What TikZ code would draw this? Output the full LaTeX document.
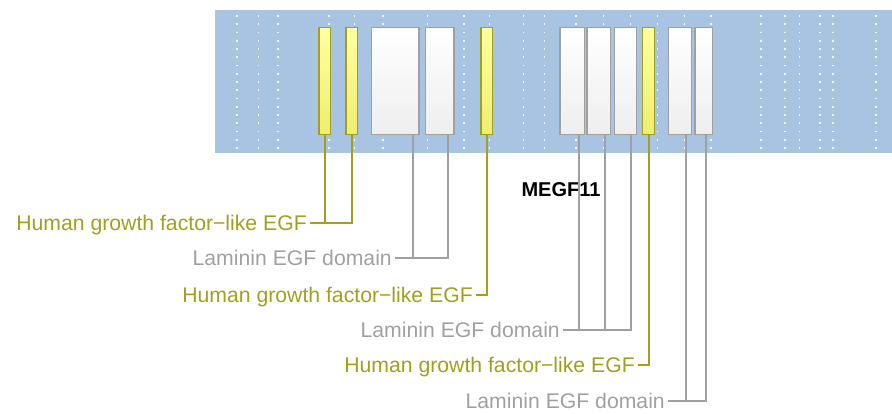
\documentclass[tikz,border=0pt]{standalone}
\usepackage{fontspec}
\setmainfont{Liberation Sans}
\usepackage{tikz}
\usetikzlibrary{positioning}
\definecolor{bandblue}{RGB}{168,196,226}
\definecolor{hgfolive}{RGB}{160,160,30}
\definecolor{hgftop}{RGB}{255,255,160}
\definecolor{hgfbottom}{RGB}{238,238,112}
\definecolor{lamgray}{RGB}{160,160,160}
\definecolor{lambottom}{RGB}{238,238,238}
\tikzset{
  hgfbox/.style={draw=hgfolive,line width=1.5pt,top color=hgftop,middle color=hgftop,
    bottom color=hgfbottom,minimum height=107pt,inner sep=0pt},
  lambox/.style={draw=lamgray,line width=1.5pt,top color=white,middle color=white,
    bottom color=lambottom,minimum height=107pt,inner sep=0pt},
  hgflabel/.style={anchor=east,text=hgfolive,font=\fontsize{21.2}{25}\selectfont,
    inner xsep=3pt,inner ysep=0pt,text height=15pt,text depth=0pt},
  lamlabel/.style={anchor=east,text=lamgray,font=\fontsize{21.2}{25}\selectfont,
    inner xsep=3pt,inner ysep=0pt,text height=15pt,text depth=0pt},
  hgfstem/.style={draw=hgfolive,line width=2pt},
  lamstem/.style={draw=lamgray,line width=2pt}
}

\begin{document}
\begin{tikzpicture}[x=1pt,y=-1pt]
  \useasboundingbox (0,0) rectangle (892,413);
  % band with dotted guides
  \fill[bandblue] (215,10) rectangle (892,153);
  \draw[red!35,line width=0.8pt] (215,10) -- (215,153);
  \foreach \gx in {236.7,258.3,277.7,329,354.3,382.7,427.3,464,489.3,523.3,544.5,575.7,
      603.3,630.5,657.3,684.3,711,760.7,785,799.3,820,832.7,875.7}
    \foreach \k in {0,...,16}
      \fill[white!92!bandblue] (\gx-0.8,16+8.25*\k-0.8) rectangle ++(1.6,1.6);
  % domains
  \node[hgfbox,minimum width=11.5pt] (hgf1) at (324.8,81) {};
  \node[hgfbox,minimum width=11.5pt] (hgf2) at (351.5,81) {};
  \node[lambox,minimum width=47.8pt] (lam1) at (395.3,81) {};
  \node[lambox,minimum width=28.8pt] (lam2) at (439.8,81) {};
  \node[hgfbox,minimum width=11.5pt] (hgf3) at (486.8,81) {};
  \node[lambox,minimum width=24.2pt] (lam3) at (572.2,81) {};
  \node[lambox,minimum width=23.2pt] (lam4) at (598.7,81) {};
  \node[lambox,minimum width=22.1pt] (lam5) at (625.5,81) {};
  \node[hgfbox,minimum width=12.1pt] (hgf4) at (648.5,81) {};
  \node[lambox,minimum width=23.1pt] (lam6) at (680,81) {};
  \node[lambox,minimum width=17.5pt] (lam7) at (703.5,81) {};
  % protein name
  \node[font=\bfseries\fontsize{20}{24}\selectfont,inner sep=0pt] (megf) at (561,190) {MEGF11};
  % labels
  \node[hgflabel] (hgflab1) at (310,222.7) {Human growth factor−like EGF};
  \node[lamlabel] (lamlab1) at (395,258.3) {Laminin EGF domain};
  \node[hgflabel] (hgflab2) at (476,295) {Human growth factor−like EGF};
  \node[lamlabel] (lamlab2) at (563,330) {Laminin EGF domain};
  \node[hgflabel] (hgflab3) at (638,365) {Human growth factor−like EGF};
  \node[lamlabel] (lamlab3) at (668,400.7) {Laminin EGF domain};
  % leader lines
  \draw[hgfstem] ([xshift=-6.5pt]hgf1.south east) |- (hgflab1.east);
  \draw[hgfstem] ([xshift=-6.5pt]hgf2.south east) |- (hgflab1.east);
  \draw[lamstem] ([xshift=-6.5pt]lam1.south east) |- (lamlab1.east);
  \draw[lamstem] ([xshift=-6.5pt]lam2.south east) |- (lamlab1.east);
  \draw[hgfstem] ([xshift=-6.5pt]hgf3.south east) |- (hgflab2.east);
  \draw[lamstem] ([xshift=-6.5pt]lam3.south east) |- (lamlab2.east);
  \draw[lamstem] ([xshift=-6.5pt]lam4.south east) |- (lamlab2.east);
  \draw[lamstem] ([xshift=-6.5pt]lam5.south east) |- (lamlab2.east);
  \draw[hgfstem] ([xshift=-6.5pt]hgf4.south east) |- (hgflab3.east);
  \draw[lamstem] ([xshift=-6.5pt]lam6.south east) |- (lamlab3.east);
  \draw[lamstem] ([xshift=-7pt]lam7.south east) |- (lamlab3.east);
\end{tikzpicture}
\end{document}
